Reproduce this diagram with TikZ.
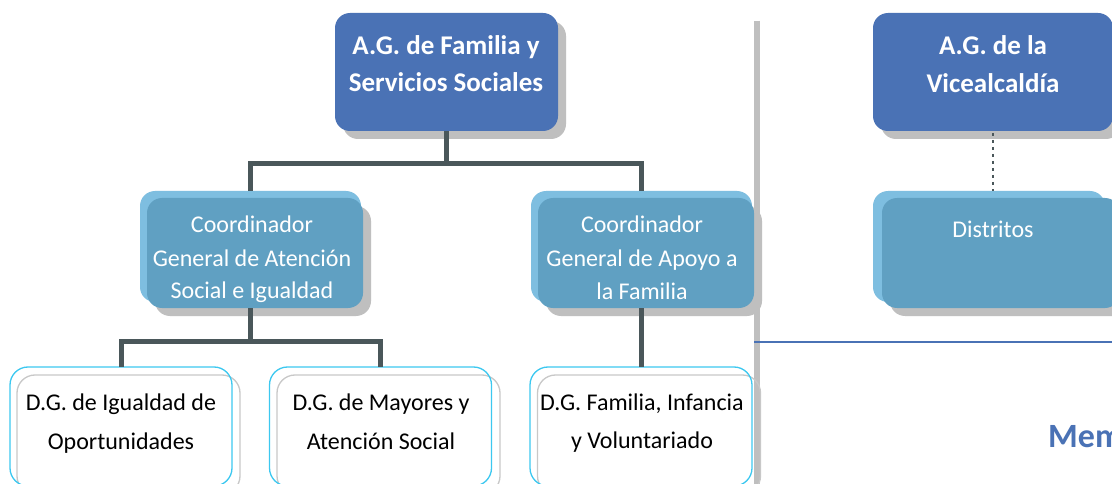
\documentclass[tikz,border=0pt]{standalone}
\usepackage{fontspec}
\setmainfont{Carlito}
\usetikzlibrary{calc}
\pgfdeclarelayer{bg}
\pgfdeclarelayer{paper}
\pgfsetlayers{paper,bg,main}
\definecolor{agblue}{HTML}{4A72B5}
\definecolor{lightb}{HTML}{7EBEE0}
\definecolor{darkb}{HTML}{60A0C2}
\definecolor{shadowc}{HTML}{BFBFBF}
\definecolor{connc}{HTML}{4A575A}
\definecolor{cyanb}{HTML}{3CC8F0}
\definecolor{grayb}{HTML}{C8C8C8}
\definecolor{sepc}{HTML}{BFBFBF}
\begin{document}
\begin{tikzpicture}[x=1pt,y=-1pt,
  boxbase/.style={inner sep=0pt,outer sep=0pt,rounded corners=15pt},
  topbox/.style={boxbase,fill=agblue,minimum height=118pt},
  outerbox/.style={boxbase,fill=lightb,minimum height=111pt},
  innerbox/.style={boxbase,fill=darkb,minimum height=110pt},
  cyanbox/.style={boxbase,draw=cyanb,line width=1.3pt,rounded corners=18pt,minimum width=222pt,minimum height=119pt},
  graybox/.style={boxbase,draw=grayb,line width=1.3pt,rounded corners=18pt,minimum width=223pt,minimum height=119pt},
  conn/.style={draw=connc,line width=5pt,line join=miter},
  dotline/.style={draw=connc,line width=2.8pt,line cap=butt,dash pattern=on 2.8pt off 4.2pt},
  boldtxt/.style={inner sep=0pt,anchor=base,text=white,font=\fontsize{27}{31}\selectfont\bfseries},
  whitetxt/.style={inner sep=0pt,anchor=base,text=white,font=\fontsize{24}{28}\selectfont},
  blacktxt/.style={inner sep=0pt,anchor=base,text=black,font=\fontsize{24}{28}\selectfont}
]
\useasboundingbox (0,0) rectangle (1112,484);
\begin{pgfonlayer}{paper}
\fill[white] (0,0) rectangle (1112,484);
\end{pgfonlayer}

% separator and blue rule
\draw[sepc,line width=6pt] (757,21) -- (757,484);
\draw[agblue,line width=2pt] (754,342) -- (1112,342);

% top boxes
\node[topbox,minimum width=223pt] (ag) at (446.5,72) {};
\node[topbox,minimum width=240pt] (vice) at (993,72) {};

% coordinator boxes
\node[outerbox,minimum width=221pt] (c1) at (250.5,246.5) {};
\node[innerbox,minimum width=216pt] (c1i) at (255,253) {};
\node[outerbox,minimum width=221pt] (c2) at (641.5,246.5) {};
\node[innerbox,minimum width=216pt] (c2i) at (646,253) {};
\node[outerbox,minimum width=232pt] (dist) at (989,246.5) {};
\node[innerbox,minimum width=238pt] (disti) at (1001,253) {};

% shadows
\begin{pgfonlayer}{bg}
  \foreach \n in {ag,vice,c1i,c2i,disti}{
    \fill[shadowc,rounded corners=15pt] ($(\n.north west)+(8,8)$) rectangle ($(\n.south east)+(8,8)$);
  }
\end{pgfonlayer}

% bottom boxes
\node[graybox] (d1g) at (128.5,434.5) {};
\node[cyanbox] (d1) at (121,426.5) {};
\node[graybox] (d2g) at (388.5,434.5) {};
\node[cyanbox] (d2) at (380.5,426.5) {};
\node[graybox] (d3g) at (649,434.5) {};
\node[cyanbox] (d3) at (641,426.5) {};

% connectors
\draw[conn] (ag.south) -- ++(0,33) coordinate (j1);
\draw[conn] (c1.north) |- (j1) -| (c2.north);
\draw[conn] (c1.south |- c1i.south) -- ++(0,33) coordinate (j2);
\draw[conn] (d1.north) |- (j2) -| (d2.north);
\draw[conn] (c2.south |- c2i.south) -- (c2.south |- d3.north);
\draw[dotline,shorten <=2pt] (vice.south) -- (vice.south |- dist.north);

% texts
\node[boldtxt] (agt1) at (446,55) {A.G. de Familia y};
\node[boldtxt] (agt2) at (446,92) {Servicios Sociales};
\node[boldtxt] (vt1) at (993,55) {A.G. de la};
\node[boldtxt] (vt2) at (993,93) {Vicealcaldía};

\node[whitetxt] (c1t1) at (252,233) {Coordinador};
\node[whitetxt] (c1t2) at (252,266) {General de Atención};
\node[whitetxt] (c1t3) at (252,298) {Social e Igualdad};
\node[whitetxt] (c2t1) at (642,233) {Coordinador};
\node[whitetxt] (c2t2) at (642,266) {General de Apoyo a};
\node[whitetxt] (c2t3) at (642,299) {la Familia};
\node[whitetxt] (dt) at (993,237) {Distritos};

\node[blacktxt] (d1t1) at (121,410) {D.G. de Igualdad de};
\node[blacktxt] (d1t2) at (121,449) {Oportunidades};
\node[blacktxt] (d2t1) at (381,410) {D.G. de Mayores y};
\node[blacktxt] (d2t2) at (381,449) {Atención Social};
\node[blacktxt] (d3t1) at (642,410) {D.G. Familia, Infancia};
\node[blacktxt] (d3t2) at (642,448) {y Voluntariado};

\node[inner sep=0pt,anchor=base west,text=agblue,font=\fontsize{34}{40}\selectfont\bfseries] (mem) at (1048,447) {Mem};
\end{tikzpicture}
\end{document}
